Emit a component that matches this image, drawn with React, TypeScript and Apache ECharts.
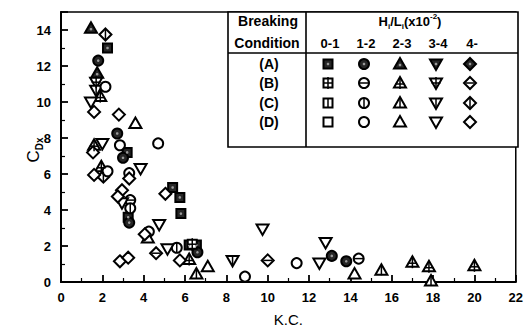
import React, { useEffect, useRef } from "react";
import * as echarts from "echarts";

// ---- data (K.C., C_Dx) by breaking condition and H_i/L_i bin ----
const hlBins = ["0-1", "1-2", "2-3", "3-4", "4-"];
const conditionLabels = ["(A)", "(B)", "(C)", "(D)"];
const xTicks = [0, 2, 4, 6, 8, 10, 12, 14, 16, 18, 20, 22];
const yTicks = [0, 2, 4, 6, 8, 10, 12, 14];

const A_01 = [[2.25, 13.0], [3.2, 7.2], [3.25, 3.6], [5.4, 5.25], [5.75, 4.7], [5.8, 3.8], [6.2, 2.05], [6.55, 2.05]];
const A_12 = [[1.8, 12.3], [2.72, 8.25], [3.0, 6.9], [3.3, 3.3], [6.6, 1.65], [13.1, 1.45], [13.8, 1.15]];
const A_23 = [[1.45, 14.1], [1.75, 11.6]];
const A_34: number[][] = [];
const A_4: number[][] = [];

const B_01 = [[6.35, 2.1]];
const B_12 = [[3.35, 4.55], [14.4, 1.3]];
const B_23 = [[1.9, 10.3], [1.6, 7.6], [1.95, 6.4], [6.2, 1.25], [17.0, 1.1], [17.8, 0.85], [20.0, 0.9]];
const B_34 = [[1.7, 11.1]];
const B_4 = [[4.6, 1.6], [10.0, 1.2]];

const C_01: number[][] = [];
const C_12 = [[3.35, 4.1], [5.6, 1.9]];
const C_23 = [[6.55, 0.45], [15.5, 0.65], [17.9, 0.05]];
const C_34 = [[1.7, 10.65], [8.3, 1.2]];
const C_4 = [[2.15, 13.75], [2.05, 5.85]];

const D_01: number[][] = [];
const D_12 = [[2.15, 10.85], [2.85, 7.6], [4.7, 7.7], [2.25, 6.15], [3.3, 6.05], [4.25, 2.8], [8.9, 0.3], [11.4, 1.05]];
const D_23 = [[3.6, 8.8], [7.1, 0.85], [14.2, 0.45], [4.2, 2.45]];
const D_34 = [[1.45, 10.0], [2.0, 7.7], [3.85, 6.3], [2.95, 4.4], [4.75, 3.2], [5.15, 1.85], [9.75, 2.95], [12.8, 2.2], [12.5, 1.05]];
const D_4 = [[1.6, 9.45], [2.8, 9.3], [1.55, 7.2], [1.6, 5.95], [2.95, 5.1], [2.75, 4.75], [5.05, 4.9], [4.05, 2.65], [2.85, 1.15], [3.25, 1.35], [5.75, 1.2], [3.3, 5.75]];

const groups: { cond: string; bin: number; data: number[][] }[] = [
  { cond: "A", bin: 0, data: A_01 }, { cond: "A", bin: 1, data: A_12 }, { cond: "A", bin: 2, data: A_23 }, { cond: "A", bin: 3, data: A_34 }, { cond: "A", bin: 4, data: A_4 },
  { cond: "B", bin: 0, data: B_01 }, { cond: "B", bin: 1, data: B_12 }, { cond: "B", bin: 2, data: B_23 }, { cond: "B", bin: 3, data: B_34 }, { cond: "B", bin: 4, data: B_4 },
  { cond: "C", bin: 0, data: C_01 }, { cond: "C", bin: 1, data: C_12 }, { cond: "C", bin: 2, data: C_23 }, { cond: "C", bin: 3, data: C_34 }, { cond: "C", bin: 4, data: C_4 },
  { cond: "D", bin: 0, data: D_01 }, { cond: "D", bin: 1, data: D_12 }, { cond: "D", bin: 2, data: D_23 }, { cond: "D", bin: 3, data: D_34 }, { cond: "D", bin: 4, data: D_4 },
];

const shapes = ["square", "circle", "triangle", "invtri", "diamond"];

function markerChildren(shape: string, cond: string, z = 2): any[] {
  const lw = 2;
  const fill = cond === "A" ? "#262626" : "#ffffff";
  const style = { fill, stroke: "#000", lineWidth: lw };
  const out: any[] = [];
  if (shape === "square") out.push({ type: "rect", shape: { x: -4.5, y: -4.5, width: 9, height: 9 }, style });
  else if (shape === "circle") out.push({ type: "circle", shape: { cx: 0, cy: 0, r: 5 }, style });
  else if (shape === "triangle") out.push({ type: "polygon", shape: { points: [[0, -6], [6, 4.5], [-6, 4.5]] }, style });
  else if (shape === "invtri") out.push({ type: "polygon", shape: { points: [[-6, -4.5], [6, -4.5], [0, 6]] }, style });
  else out.push({ type: "polygon", shape: { points: [[0, -6], [6, 0], [0, 6], [-6, 0]] }, style });
  const ls = { stroke: "#000", lineWidth: 1.5 };
  if (cond === "A") {
    out.push({ type: "circle", shape: { cx: 0, cy: shape === "triangle" ? 1 : 0, r: 1.3 }, style: { fill: "#9a9a9a" } });
  } else if (cond === "B") {
    out.push({ type: "line", shape: { x1: -4.5, y1: shape === "triangle" ? 1 : 0, x2: 4.5, y2: shape === "triangle" ? 1 : 0 }, style: ls });
    if (shape !== "circle" && shape !== "diamond") out.push({ type: "line", shape: { x1: 0, y1: -6, x2: 0, y2: 6 }, style: ls });
  } else if (cond === "C") {
    out.push({ type: "line", shape: { x1: 0, y1: -5, x2: 0, y2: 5 }, style: ls });
  }
  return out.map((e, i) => ({ ...e, z, zlevel: 0, z2: i }));
}

const FONT = "'Liberation Sans', Arial, sans-serif";

export default function App() {
  const ref = useRef<HTMLDivElement>(null);
  useEffect(() => {
    if (!ref.current) return;
    const chart = echarts.init(ref.current, undefined, { renderer: "svg" });

    const series = groups.map((g) => ({
      type: "custom",
      coordinateSystem: "cartesian2d",
      data: g.data,
      encode: { x: 0, y: 1 },
      silent: true,
      renderItem: (params: any, api: any) => {
        const p = api.coord([api.value(0), api.value(1)]);
        return { type: "group", x: p[0], y: p[1], children: markerChildren(shapes[g.bin], g.cond, 2) };
      },
    }));

    // legend table graphics
    const L = 228, R = 518, T = 12, B = 147, HL = 53, VD = 306;
    const colX = [328, 364, 400, 436, 470];
    const rowY = [64, 83, 103, 122];
    const lineStyle = { stroke: "#000", lineWidth: 1.6 };
    const tstyle = (text: string, size = 13) => ({ text, font: `bold ${size}px ${FONT}`, fill: "#000", align: "center", verticalAlign: "middle" });
    const graphic: any[] = [
      { type: "rect", shape: { x: L, y: T, width: R - L, height: B - T }, style: { fill: "#fff", stroke: "#000", lineWidth: 1.6 }, z: 100 },
      { type: "line", shape: { x1: L, y1: HL, x2: R, y2: HL }, style: lineStyle, z: 101 },
      { type: "line", shape: { x1: VD, y1: T, x2: VD, y2: B }, style: lineStyle, z: 101 },
      { type: "text", x: 268, y: 21, style: tstyle("Breaking", 14), z: 101 },
      { type: "text", x: 267, y: 43, style: tstyle("Condition", 14), z: 101 },
      {
        type: "text", x: 410, y: 21, z: 101,
        style: {
          text: "{n|H}{s|i}{n|/L}{s|i}{n|(x10}{p|-2}{n|)}",
          align: "center", verticalAlign: "middle",
          rich: {
            n: { font: `bold 13px ${FONT}`, fill: "#000", lineHeight: 18 },
            s: { font: `bold 8px ${FONT}`, fill: "#000", verticalAlign: "bottom", lineHeight: 18 },
            p: { font: `bold 8px ${FONT}`, fill: "#000", verticalAlign: "top", lineHeight: 18 },
          },
        },
      },
    ];
    hlBins.forEach((b, i) => {
      graphic.push({ type: "text", x: colX[i] + 2, y: 43, z: 101, style: tstyle(b) });
    });
    conditionLabels.forEach((c, r) => {
      graphic.push({ type: "text", x: 269, y: rowY[r], z: 101, style: tstyle(c, 14) });
      const cond = c.replace(/[()]/g, "");
      shapes.forEach((s, i) => {
        graphic.push({ type: "group", x: colX[i], y: rowY[r], z: 101, children: markerChildren(s, cond, 102) });
      });
    });
    // y-axis title C_Dx
    graphic.push({
      type: "text", x: 33, y: 150, rotation: Math.PI / 2, z: 101,
      style: {
        text: "{c|C}{s|Dx}", align: "center", verticalAlign: "middle",
        rich: {
          c: { font: `17px ${FONT}`, fill: "#000", lineHeight: 22 },
          s: { font: `bold 10px ${FONT}`, fill: "#000", verticalAlign: "bottom", lineHeight: 22 },
        },
      },
    });

    chart.setOption({
      animation: false,
      backgroundColor: "#fff",
      grid: { left: 61, right: 8, top: 12, bottom: 52, show: true, borderColor: "#000", borderWidth: 1.5, backgroundColor: "transparent" },
      xAxis: {
        type: "value", min: xTicks[0], max: xTicks[xTicks.length - 1], interval: 2,
        name: "K.C.", nameLocation: "middle", nameGap: 30,
        nameTextStyle: { fontFamily: FONT, fontSize: 15, color: "#000" },
        axisLine: { show: true, onZero: false, lineStyle: { color: "#000", width: 2 } },
        axisTick: { show: true, inside: true, length: 7, lineStyle: { color: "#000", width: 1.8 } },
        minorTick: { show: true, splitNumber: 2, length: 4, lineStyle: { color: "#000", width: 1.2 } },
        axisLabel: { fontFamily: FONT, fontSize: 13, fontWeight: "bold", color: "#000", margin: 9 },
        splitLine: { show: false },
      },
      yAxis: {
        type: "value", min: yTicks[0], max: 15, interval: 2,
        axisLine: { show: true, onZero: false, lineStyle: { color: "#000", width: 2 } },
        axisTick: { show: true, inside: true, length: 7, lineStyle: { color: "#000", width: 1.8 } },
        minorTick: { show: true, splitNumber: 2, length: 4, lineStyle: { color: "#000", width: 1.2 } },
        axisLabel: { fontFamily: FONT, fontSize: 13, fontWeight: "bold", color: "#000", margin: 10, showMaxLabel: false, formatter: (v: number) => (yTicks.includes(v) ? String(v) : "") },
        splitLine: { show: false },
      },
      graphic,
      series,
    });
    return () => chart.dispose();
  }, []);
  return <div ref={ref} style={{ position: "fixed", left: 0, top: 0, width: 526, height: 334, background: "#fff" }} />;
}
